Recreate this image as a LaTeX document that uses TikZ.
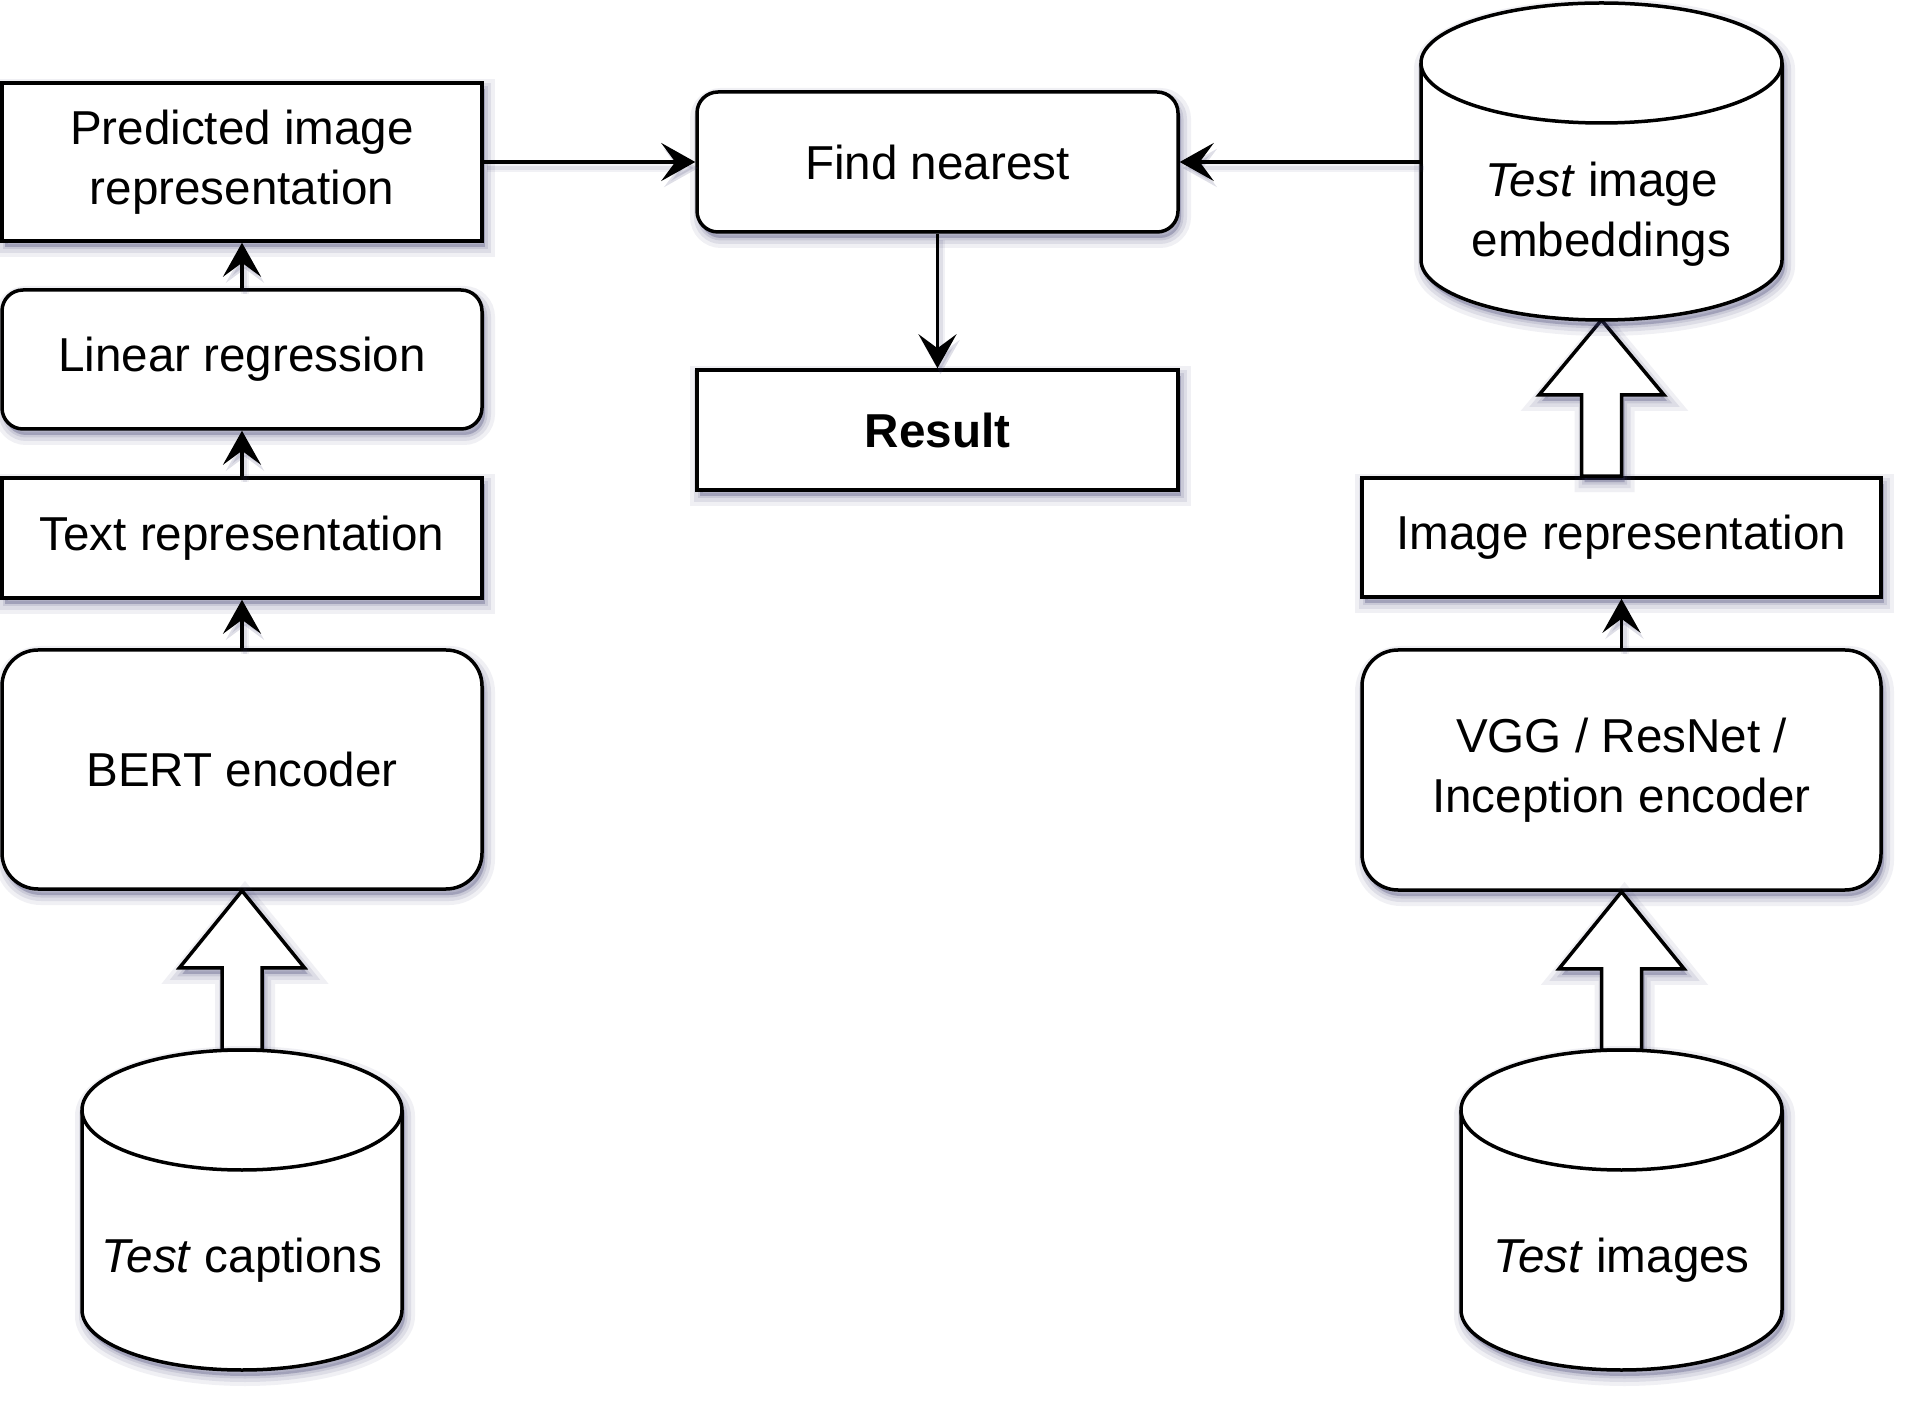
\documentclass[tikz,border=0pt]{standalone}
\usepackage{fontspec}
\setmainfont{Liberation Sans}
\usetikzlibrary{arrows.meta,calc}
\definecolor{shc}{RGB}{60,60,110}
\begin{document}
\begin{tikzpicture}[x=0.5pt,y=-0.5pt,
  font=\fontsize{23.8pt}{30pt}\selectfont,
  shd/.style={
    preaction={draw=shc,fill=shc,line width=10pt,opacity=0.08,transform canvas={xshift=1.5pt,yshift=-3pt}},
    preaction={draw=shc,fill=shc,line width=6pt,opacity=0.1,transform canvas={xshift=1.5pt,yshift=-3pt}},
    preaction={draw=shc,fill=shc,line width=2.5pt,opacity=0.13,transform canvas={xshift=1.5pt,yshift=-3pt}}},
  eshd/.style={
    preaction={draw=shc,line width=4pt,opacity=0.07,transform canvas={xshift=1.5pt,yshift=-3pt}},
    preaction={draw=shc,line width=2pt,opacity=0.1,transform canvas={xshift=1.5pt,yshift=-3pt}}},
  box/.style={shd,draw,fill=white,line width=1.75pt,inner sep=0pt,align=center},
  rbox/.style={box,rounded corners=10.5pt},
  bigrbox/.style={box,rounded corners=18pt},
  cyl/.style={shd,draw,fill=white,line width=1.75pt},
  cylline/.style={draw,line width=1.75pt},
  lbl/.style={inner sep=0pt,align=center},
  blk/.style={shd,draw,fill=white,line width=1.75pt,line join=miter},
  arr/.style={eshd,draw,line width=1.75pt,-{Stealth[length=17pt,width=19pt,inset=7pt]}},
]
\useasboundingbox (0,0) rectangle (1928,1416);

% left column
\node[box,minimum width=240pt,minimum height=79pt] (pred) at (242,162) {Predicted image\\representation};
\node[rbox,minimum width=240pt,minimum height=69.5pt] (lin) at (242,359.5) {Linear regression};
\node[box,minimum width=240pt,minimum height=60pt] (txt) at (242,538) {Text representation};
\node[bigrbox,minimum width=240pt,minimum height=119.5pt] (bert) at (242,769.5) {BERT encoder};

% centre column
\node[rbox,minimum width=240.5pt,minimum height=70pt] (find) at (937.5,162) {Find nearest};
\node[box,minimum width=240.5pt,minimum height=60pt] (res) at (937.5,430) {\bfseries Result};

% right column
\node[box,minimum width=259.5pt,minimum height=59.5pt] (imgrep) at (1621.5,537.5) {Image representation};
\node[bigrbox,minimum width=259.5pt,minimum height=120pt] (vgg) at (1621.5,770) {VGG / ResNet /\\Inception encoder};

% cylinder anchor points
\coordinate (capttop) at (242,1050);
\coordinate (timgtop) at (1621.5,1050);
\coordinate (tiebot) at (1601.5,320);
\coordinate (tiewest) at (1421,162);

% block arrows
\draw[blk] let \p1=(capttop), \p2=(capttop |- bert.south) in
  (\x1-10pt,\y1) -- (\x1-10pt,\y2-38.5pt) -- (\x1-31.25pt,\y2-38.5pt) -- (\x1,\y2)
  -- (\x1+31.25pt,\y2-38.5pt) -- (\x1+10pt,\y2-38.5pt) -- (\x1+10pt,\y1) -- cycle;
\draw[blk] let \p1=(timgtop), \p2=(timgtop |- vgg.south) in
  (\x1-10pt,\y1) -- (\x1-10pt,\y2-38.5pt) -- (\x1-31.25pt,\y2-38.5pt) -- (\x1,\y2)
  -- (\x1+31.25pt,\y2-38.5pt) -- (\x1+10pt,\y2-38.5pt) -- (\x1+10pt,\y1) -- cycle;
\draw[blk] let \p1=(tiebot |- imgrep.north), \p2=(tiebot) in
  (\x1-10pt,\y1) -- (\x1-10pt,\y2-37.5pt) -- (\x1-31.25pt,\y2-37.5pt) -- (\x1,\y2)
  -- (\x1+31.25pt,\y2-37.5pt) -- (\x1+10pt,\y2-37.5pt) -- (\x1+10pt,\y1) -- cycle;

% cylinders
\draw[cyl] (82,1110) arc[start angle=180,end angle=0,x radius=80pt,y radius=30pt]
  -- (402,1310) arc[start angle=0,end angle=-180,x radius=80pt,y radius=30pt] -- cycle;
\draw[cylline] (82,1110) arc[start angle=180,end angle=360,x radius=80pt,y radius=30pt];
\node[lbl] (capt) at (242,1260) {\textit{Test} captions};

\draw[cyl] (1461,1110) arc[start angle=180,end angle=0,x radius=80.25pt,y radius=30pt]
  -- (1782,1310) arc[start angle=0,end angle=-180,x radius=80.25pt,y radius=30pt] -- cycle;
\draw[cylline] (1461,1110) arc[start angle=180,end angle=360,x radius=80.25pt,y radius=30pt];
\node[lbl] (timg) at (1621.5,1260) {\textit{Test} images};

\draw[cyl] (1421,63) arc[start angle=180,end angle=0,x radius=90.25pt,y radius=30pt]
  -- (1782,260) arc[start angle=0,end angle=-180,x radius=90.25pt,y radius=30pt] -- cycle;
\draw[cylline] (1421,63) arc[start angle=180,end angle=360,x radius=90.25pt,y radius=30pt];
\node[lbl] (tie) at (1601.5,214) {\textit{Test} image\\embeddings};

% thin arrows
\draw[arr] (bert.north) -- (txt.south);
\draw[arr] (txt.north) -- (lin.south);
\draw[arr] (lin.north) -- (pred.south);
\draw[arr] (pred.east) -- (find.west);
\draw[arr] (tiewest) -- (find.east);
\draw[arr] (find.south) -- (res.north);
\draw[arr] (vgg.north) -- (imgrep.south);
\end{tikzpicture}
\end{document}
